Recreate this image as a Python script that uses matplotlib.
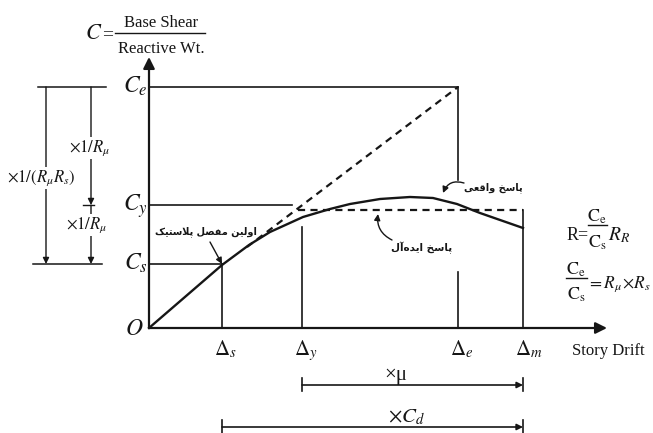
import matplotlib.pyplot as plt

plt.rcParams['mathtext.fontset'] = 'stix'
plt.rcParams['font.family'] = ['Liberation Serif', 'DejaVu Sans']

# story drift levels: Δs, Δy, Δe, Δm
drift_names = ['s', 'y', 'e', 'm']
drift = [0.73, 1.53, 3.09, 3.74]

# base shear coefficients: Ce, Cy, Cs
coef_names = ['e', 'y', 's']
coef = [2.41, 1.23, 0.64]

# idealised (bilinear) plateau
plateau = 1.18

# actual pushover response
resp_x = [0.0, 0.73, 1.00, 1.21, 1.54, 1.81, 2.01, 2.31, 2.61, 2.84, 3.08, 3.31, 3.74]
resp_y = [0.0, 0.63, 0.83, 0.96, 1.11, 1.19, 1.24, 1.29, 1.31, 1.30, 1.24, 1.15, 1.00]

# elastic line, from where it leaves the curve up to (Δe, Ce)
elastic_x = [0.98, 3.09]
elastic_y = [0.81, 2.41]

hinge_label = 'اولین مفصل پلاستیک'
actual_label = 'پاسخ واقعی'
ideal_label = 'پاسخ ایده\u200cآل'

# arabic presentation forms: isolated, final, initial, medial
FORMS = {
    'ا': ('\ufe8d', '\ufe8e'),
    'آ': ('\ufe81', '\ufe82'),
    'د': ('\ufea9', '\ufeaa'),
    'و': ('\ufeed', '\ufeee'),
    'ل': ('\ufedd', '\ufede', '\ufedf', '\ufee0'),
    'ی': ('\ufbfc', '\ufbfd', '\ufbfe', '\ufbff'),
    'ن': ('\ufee5', '\ufee6', '\ufee7', '\ufee8'),
    'م': ('\ufee1', '\ufee2', '\ufee3', '\ufee4'),
    'ف': ('\ufed1', '\ufed2', '\ufed3', '\ufed4'),
    'ص': ('\ufeb9', '\ufeba', '\ufebb', '\ufebc'),
    'پ': ('\ufb56', '\ufb57', '\ufb58', '\ufb59'),
    'س': ('\ufeb1', '\ufeb2', '\ufeb3', '\ufeb4'),
    'ت': ('\ufe95', '\ufe96', '\ufe97', '\ufe98'),
    'ک': ('\ufb8e', '\ufb8f', '\ufb90', '\ufb91'),
    'خ': ('\ufea5', '\ufea6', '\ufea7', '\ufea8'),
    'ق': ('\ufed5', '\ufed6', '\ufed7', '\ufed8'),
    'ع': ('\ufec9', '\ufeca', '\ufecb', '\ufecc'),
    'ه': ('\ufee9', '\ufeea', '\ufeeb', '\ufeec'),
}
LAM_ALEF = {'ا': ('\ufefb', '\ufefc'), 'آ': ('\ufef5', '\ufef6')}


def shape(text):
    # join letters and put them in visual (left to right) order
    dual = lambda c: c in FORMS and len(FORMS[c]) == 4
    out = []
    i = 0
    while i < len(text):
        c = text[i]
        if c not in FORMS:
            if c != '\u200c':
                out.append(c)
            i += 1
            continue
        link_prev = i > 0 and dual(text[i - 1])
        nxt = text[i + 1] if i + 1 < len(text) else ''
        if c == 'ل' and nxt in LAM_ALEF:
            out.append(LAM_ALEF[nxt][1 if link_prev else 0])
            i += 2
            continue
        link_next = dual(c) and nxt in FORMS
        f = FORMS[c]
        if link_prev and link_next:
            out.append(f[3])
        elif link_prev:
            out.append(f[1])
        elif link_next:
            out.append(f[2])
        else:
            out.append(f[0])
        i += 1
    return ''.join(reversed(out))


ds, dy, de, dm = drift
ce, cy, cs = coef
ink = '#161616'

fig = plt.figure(figsize=(6.53, 4.33), dpi=100)
ax = fig.add_axes([0, 0, 1, 1])
ax.set_xlim(-1.49, 5.04)
ax.set_ylim(-1.05, 3.28)
ax.axis('off')

big = dict(arrowstyle='-|>', color=ink, lw=1.6, mutation_scale=17, shrinkA=0, shrinkB=0)
small = dict(arrowstyle='-|>', color=ink, lw=1.0, mutation_scale=9, shrinkA=0, shrinkB=0)

# axes
ax.annotate('', xy=(0, 2.71), xytext=(0, 0), arrowprops=big)
ax.annotate('', xy=(4.58, 0), xytext=(0, 0), arrowprops=big)

# guide lines
lw = 1.2
ax.plot([0, de], [ce, ce], color=ink, lw=lw)
ax.plot([0, 1.43], [cy, cy], color=ink, lw=lw)
ax.plot([0, ds], [cs, cs], color=ink, lw=lw)
ax.plot([ds, ds], [0, cs], color=ink, lw=lw)
ax.plot([dy, dy], [0, 1.01], color=ink, lw=lw)
ax.plot([de, de], [ce, 1.48], color=ink, lw=lw)
ax.plot([de, de], [0, 0.56], color=ink, lw=lw)
ax.plot([dm, dm], [0, plateau], color=ink, lw=lw)

# response curves
ax.plot(resp_x, resp_y, color=ink, lw=1.7, solid_joinstyle='round')
ax.plot(elastic_x, elastic_y, color=ink, lw=1.6, ls=(0, (3.2, 2.4)))
ax.plot([1.49, dm], [plateau, plateau], color=ink, lw=1.6, ls=(0, (3.2, 2.4)))

# axis labels
for name, d in zip(drift_names, drift):
    ax.text(d - 0.075, -0.27, r'$\Delta_{%s}$' % name, ha='left', va='baseline', fontsize=15, color=ink)
for name, c in zip(coef_names, coef):
    ax.text(-0.01, c - 0.055, r'$C_{%s}$' % name, ha='right', va='baseline', fontsize=17, color=ink)
ax.text(-0.05, -0.07, r'$O$', ha='right', va='baseline', fontsize=17, color=ink)
ax.text(4.23, -0.27, 'Story Drift', ha='left', va='baseline', fontsize=12, color=ink)

# C = base shear / reactive weight
ax.text(-0.64, 2.89, r'$C$', ha='left', va='baseline', fontsize=16, color=ink)
ax.text(-0.47, 2.89, '=', ha='left', va='baseline', fontsize=14, color=ink)
ax.text(0.12, 3.01, 'Base Shear', ha='center', va='baseline', fontsize=12, color=ink)
ax.plot([-0.34, 0.56], [2.95, 2.95], color=ink, lw=1.0)
ax.text(0.12, 2.75, 'Reactive Wt.', ha='center', va='baseline', fontsize=12, color=ink)

# persian labels
fa = dict(family='DejaVu Sans', fontsize=7, fontweight='bold', color=ink, ha='center', va='center')
ax.text(0.57, 0.96, shape(hinge_label), **fa)
ax.annotate('', xy=(ds, cs), xytext=(0.61, 0.86), arrowprops=small)
ax.text(3.44, 1.40, shape(actual_label), **fa)
ax.annotate('', xy=(2.94, 1.35), xytext=(3.15, 1.45),
            arrowprops=dict(small, connectionstyle='arc3,rad=0.45'))
ax.text(2.73, 0.80, shape(ideal_label), **dict(fa, fontsize=7.5))
ax.annotate('', xy=(2.29, 1.14), xytext=(2.43, 0.88),
            arrowprops=dict(small, connectionstyle='arc3,rad=-0.35'))

# reduction factors on the left
ax.plot([-1.11, -0.43], [ce, ce], color=ink, lw=1.1)
ax.plot([-1.16, -0.47], [cs, cs], color=ink, lw=1.1)
ax.annotate('', xy=(-1.03, cs), xytext=(-1.03, ce), arrowprops=small)
ax.annotate('', xy=(-0.58, cy), xytext=(-0.58, ce), arrowprops=small)
ax.annotate('', xy=(-0.58, cs), xytext=(-0.58, cy), arrowprops=small)
ax.plot([-0.66, -0.55], [cy, cy], color=ink, lw=1.0)
box = dict(facecolor='white', edgecolor='none', pad=1)
ax.text(-1.08, 1.50, r'$\times 1/(R_\mu R_s)$', ha='center', va='center', fontsize=12, color=ink, bbox=box)
ax.text(-0.59, 1.80, r'$\times 1/R_\mu$', ha='center', va='center', fontsize=12, color=ink, bbox=box)
ax.text(-0.62, 1.03, r'$\times 1/R_\mu$', ha='center', va='center', fontsize=12, color=ink, bbox=box)

# ductility and deflection amplification spans
for x0, y, label, tx in [(dy, -0.57, '×μ', 2.47), (ds, -0.99, r'$\times C_d$', 2.57)]:
    ax.annotate('', xy=(dm, y), xytext=(x0, y), arrowprops=dict(small, lw=1.2))
    ax.plot([x0, x0], [y - 0.06, y + 0.07], color=ink, lw=1.2)
    ax.plot([dm, dm], [y - 0.06, y + 0.07], color=ink, lw=1.2)
    ax.text(tx, y + 0.05, label, ha='center', va='baseline', fontsize=15, color=ink)

# response modification relations
ax.text(4.18, 0.88, 'R=', ha='left', va='baseline', fontsize=13, color=ink)
ax.text(4.48, 1.06, r'$\mathrm{C_e}$', ha='center', va='baseline', fontsize=13, color=ink)
ax.plot([4.39, 4.58], [1.03, 1.03], color=ink, lw=1.0)
ax.text(4.48, 0.80, r'$\mathrm{C_s}$', ha='center', va='baseline', fontsize=13, color=ink)
ax.text(4.59, 0.88, r'$R_R$', ha='left', va='baseline', fontsize=14, color=ink)

ax.text(4.27, 0.53, r'$\mathrm{C_e}$', ha='center', va='baseline', fontsize=13, color=ink)
ax.plot([4.17, 4.38], [0.50, 0.50], color=ink, lw=1.0)
ax.text(4.27, 0.28, r'$\mathrm{C_s}$', ha='center', va='baseline', fontsize=13, color=ink)
ax.text(4.38, 0.40, r'$=R_\mu\!\times\! R_s$', ha='left', va='baseline', fontsize=12.5, color=ink)

fig.savefig('out.png', dpi=100)
